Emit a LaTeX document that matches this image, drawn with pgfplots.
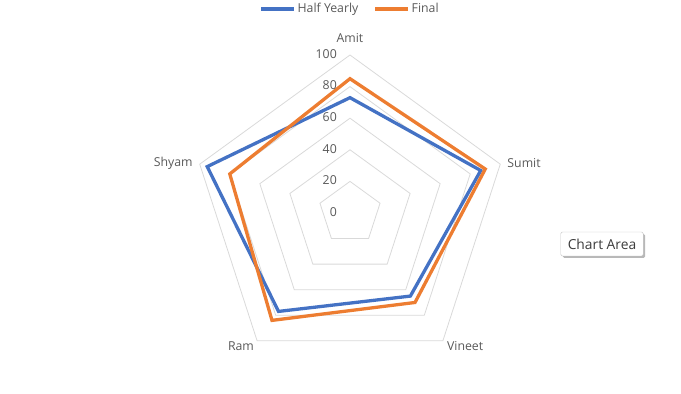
\documentclass[border=0pt]{standalone}
\usepackage{pgfplots}
\pgfplotsset{compat=1.18}
\usepgfplotslibrary{polar}
\usetikzlibrary{shadows}
\usepackage{fontspec}
\setmainfont{Open Sans}
\definecolor{hy}{HTML}{4472C4}
\definecolor{fi}{HTML}{ED7D31}
\definecolor{gridc}{HTML}{D9D9D9}
\definecolor{txt}{HTML}{595959}
\newcommand{\lblfont}{\fontsize{12.3}{14}\selectfont}
\begin{document}
\begin{tikzpicture}[x=1pt,y=1pt]
\useasboundingbox (0,0) rectangle (681,394);
\begin{polaraxis}[
  at={(350pt,181pt)}, anchor=center,
  width=316pt, height=316pt, scale only axis,
  xmin=0, xmax=360, ymin=0, ymax=100,
  hide axis, clip=false,
  legend style={at={(0.5,1.146)}, anchor=center, legend columns=2, draw=none, fill=none,
    font=\lblfont, text=txt, inner sep=1pt,
    /tikz/every even column/.append style={column sep=13pt}},
  legend image code/.code={\draw[#1, line width=3.3pt] (0pt,0pt) -- (33pt,0pt);},
]
% grid pentagons
\addplot[gridc, line width=0.8pt, forget plot, line join=miter] coordinates {(90,20)(18,20)(306,20)(234,20)(162,20)(90,20)(18,20)};
\addplot[gridc, line width=0.8pt, forget plot, line join=miter] coordinates {(90,40)(18,40)(306,40)(234,40)(162,40)(90,40)(18,40)};
\addplot[gridc, line width=0.8pt, forget plot, line join=miter] coordinates {(90,60)(18,60)(306,60)(234,60)(162,60)(90,60)(18,60)};
\addplot[gridc, line width=0.8pt, forget plot, line join=miter] coordinates {(90,80)(18,80)(306,80)(234,80)(162,80)(90,80)(18,80)};
\addplot[gridc, line width=0.8pt, forget plot, line join=miter] coordinates {(90,100)(18,100)(306,100)(234,100)(162,100)(90,100)(18,100)};
% data: Amit, Sumit, Vineet, Ram, Shyam
\addplot[hy, line width=3.3pt, line join=miter] coordinates {(90,73)(18,87)(306,65)(234,77)(162,95)(90,73)(18,87)};
\addlegendentry{Half Yearly}
\addplot[fi, line width=3.3pt, line join=miter] coordinates {(90,85)(18,90)(306,70)(234,84)(162,80)(90,85)(18,90)};
\addlegendentry{Final}
% radial tick labels
\pgfplotsinvokeforeach{0,20,40,60,80,100}{
  \node[anchor=east, inner sep=0pt, font=\lblfont, text=txt, xshift=-13pt, yshift=1pt] at (axis cs:90,#1) {#1};
}
% category labels
\node[font=\lblfont, text=txt, yshift=17pt] at (axis cs:90,100) {Amit};
\node[font=\lblfont, text=txt, anchor=west, inner sep=0pt, xshift=7pt, yshift=1pt] at (axis cs:18,100) {Sumit};
\node[font=\lblfont, text=txt, anchor=west, inner sep=0pt, xshift=4pt, yshift=-5pt] at (axis cs:306,100) {Vineet};
\node[font=\lblfont, text=txt, anchor=east, inner sep=0pt, xshift=-3pt, yshift=-5pt] at (axis cs:234,100) {Ram};
\node[font=\lblfont, text=txt, anchor=east, inner sep=0pt, xshift=-7pt, yshift=1pt] at (axis cs:162,100) {Shyam};
\end{polaraxis}
\node[draw=gray!45, fill=white, rounded corners=1.5pt, inner xsep=7pt, minimum height=24pt,
  drop shadow={shadow xshift=2pt, shadow yshift=-2pt, fill=gray!70, opacity=0.8},
  font=\fontsize{13.8}{16}\selectfont, text={rgb,255:red,60;green,60;blue,60}] at (602,150) {Chart Area};
\end{tikzpicture}
\end{document}
